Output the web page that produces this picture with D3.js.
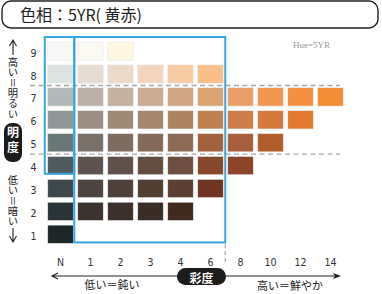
<!DOCTYPE html>
<html>
<head>
<meta charset="utf-8">
<script src="https://d3js.org/d3.v7.min.js"></script>
<style>
  body { margin: 0; background: #fff; }
  svg { display: block; }
</style>
</head>
<body>
<script>
// Munsell value / chroma chips, hue 5YR
var chromas = ["N", "1", "2", "3", "4", "6", "8", "10", "12", "14"];
var values = [9, 8, 7, 6, 5, 4, 3, 2, 1];

// chip colours for each value row, left to right from N
var row9 = ["#f7f8f7", "#fbf9f4", "#fdf6e0"];
var row8 = ["#dde3e1", "#e5ddd3", "#ebdaca", "#f3d5bd", "#f8cba4", "#f8bf88"];
var row7 = ["#b2b9b9", "#bcb1a9", "#c3b09f", "#cbab92", "#d2a585", "#dca26f", "#eb9f68", "#f0964f", "#f28f40", "#f28c35"];
var row6 = ["#8f9796", "#9a8e85", "#9f8a78", "#a4876e", "#ad8462", "#c0804f", "#cb7d4a", "#d5793e", "#e47a2f"];
var row5 = ["#697777", "#7a706a", "#7e6c61", "#846a5a", "#8d6a55", "#a4613d", "#a8603c", "#b05e2c"];
var row4 = ["#4e5a5e", "#5c5350", "#5f514a", "#644e44", "#6d4e40", "#86472a", "#8c4428"];
var row3 = ["#3e484b", "#4b4440", "#4e413b", "#523f34", "#5b3f33", "#6f3522"];
var row2 = ["#2a3436", "#3b3330", "#3c302c", "#3a2c26", "#40291e"];
var row1 = ["#1e2628"];

var rows = [row9, row8, row7, row6, row5, row4, row3, row2, row1];

var chips = [];
rows.forEach(function (r, i) {
    r.forEach(function (c, j) {
        chips.push({value: values[i], chroma: chromas[j], color: c});
    });
});

var width = 382, height = 294;
var jp = "'Noto Sans CJK JP', 'Noto Sans', sans-serif";
var narrow = "'Liberation Sans Narrow', 'DejaVu Sans Condensed', 'Liberation Sans', sans-serif";
var blue = "#38a6de";

var svg = d3.select("body").append("svg")
    .attr("width", width)
    .attr("height", height);

var x = d3.scaleBand()
    .domain(chromas)
    .range([45.5, 345.5])
    .paddingInner(0.15)
    .paddingOuter(0.075);

var y = d3.scaleBand()
    .domain(values)
    .range([39.7, 245.7])
    .paddingInner(0.2)
    .paddingOuter(0.1);

// title box
svg.append("rect")
    .attr("x", 2).attr("y", 1)
    .attr("width", 376).attr("height", 27)
    .attr("rx", 9)
    .attr("fill", "none")
    .attr("stroke", "#222")
    .attr("stroke-width", 1.4);

svg.append("text")
    .attr("x", 20).attr("y", 21)
    .attr("font-family", jp)
    .attr("font-size", 16)
    .attr("fill", "#222")
    .text("色相：5YR( 黄赤)");

svg.append("text")
    .attr("x", 293).attr("y", 48)
    .attr("font-family", "'Liberation Serif', 'DejaVu Serif', serif")
    .attr("font-size", 9)
    .attr("fill", "#9a9a9a")
    .text("Hue=5YR");

// chips
svg.selectAll(".chip")
    .data(chips)
    .enter()
    .append("rect")
    .attr("class", "chip")
    .attr("x", function (d) { return x(d.chroma); })
    .attr("y", function (d) { return y(d.value); })
    .attr("width", x.bandwidth())
    .attr("height", y.bandwidth())
    .attr("fill", function (d) { return d.color; })
    .attr("stroke", "#ececec")
    .attr("stroke-width", 0.6);

// dashed separators between value groups
var gap = (y.step() - y.bandwidth()) / 2;
[8, 5].forEach(function (v) {
    var yy = y(v) + y.bandwidth() + gap;
    svg.append("line")
        .attr("x1", 30).attr("x2", 340)
        .attr("y1", yy).attr("y2", yy)
        .attr("stroke", "#a8a8a8")
        .attr("stroke-width", 1.3)
        .attr("stroke-dasharray", "5,3.5");
});

// blue frames
var midX = x("1") - 3.5;
var rightX = x("6") + x.bandwidth() + 2;
var topY = y(9) - 5;
svg.append("rect")
    .attr("x", x("N") - 3)
    .attr("y", topY)
    .attr("width", midX - (x("N") - 3))
    .attr("height", y(4) + y.bandwidth() - 1 - topY)
    .attr("fill", "none")
    .attr("stroke", blue)
    .attr("stroke-width", 2);
svg.append("rect")
    .attr("x", midX)
    .attr("y", topY)
    .attr("width", rightX - midX)
    .attr("height", y(1) + y.bandwidth() - 1 - topY)
    .attr("fill", "none")
    .attr("stroke", blue)
    .attr("stroke-width", 2);

svg.append("line")
    .attr("x1", rightX).attr("x2", rightX)
    .attr("y1", 244).attr("y2", 262)
    .attr("stroke", "#a8a8a8")
    .attr("stroke-width", 1.2)
    .attr("stroke-dasharray", "4,3");

// axes
var xAxis = svg.append("g")
    .attr("transform", "translate(0,256)")
    .call(d3.axisBottom(x).tickSize(0).tickPadding(3));
xAxis.select(".domain").remove();
xAxis.selectAll("text")
    .attr("font-family", narrow)
    .attr("font-size", 10.5)
    .attr("fill", "#333");

var yAxis = svg.append("g")
    .attr("transform", "translate(38,2.2)")
    .call(d3.axisLeft(y).tickSize(0).tickPadding(1.5));
yAxis.select(".domain").remove();
yAxis.selectAll("text")
    .attr("font-family", narrow)
    .attr("font-size", 10.5)
    .attr("fill", "#333");

// vertical axis title (value)
function verticalText(str, x0, y0, size) {
    svg.append("text")
        .attr("x", x0)
        .attr("y", y0)
        .style("writing-mode", "vertical-rl")
        .attr("font-family", jp)
        .attr("font-size", size)
        .attr("fill", "#222")
        .text(str);
}

var ax = 13;
svg.append("path")
    .attr("d", "M" + ax + ",40V55M" + (ax - 3.5) + ",46L" + ax + ",40L" + (ax + 3.5) + ",46")
    .attr("fill", "none").attr("stroke", "#222").attr("stroke-width", 1.1);
verticalText("高い＝明るい", ax, 57, 10.3);

svg.append("rect")
    .attr("x", 4).attr("y", 123)
    .attr("width", 18).attr("height", 39)
    .attr("rx", 8)
    .attr("fill", "#1c1c1c");
svg.append("text")
    .attr("x", 13).attr("y", 126)
    .style("writing-mode", "vertical-rl")
    .style("letter-spacing", "3px")
    .attr("font-family", jp).attr("font-size", 12).attr("font-weight", "bold")
    .attr("fill", "#fff").text("明度");

verticalText("低い＝暗い", ax, 175, 10.3);
svg.append("path")
    .attr("d", "M" + ax + ",228V242M" + (ax - 3.5) + ",236L" + ax + ",242L" + (ax + 3.5) + ",236")
    .attr("fill", "none").attr("stroke", "#222").attr("stroke-width", 1.1);

// horizontal axis title (chroma)
var ay = 276;
svg.append("path")
    .attr("d", "M52," + ay + "H178M58," + (ay - 3) + "L52," + ay + "L58," + (ay + 3))
    .attr("fill", "none").attr("stroke", "#222").attr("stroke-width", 1.1);
svg.append("line")
    .attr("x1", 225).attr("x2", 336)
    .attr("y1", ay).attr("y2", ay)
    .attr("stroke", "#222").attr("stroke-width", 1.1);
svg.append("path")
    .attr("d", "M341," + ay + "L333," + (ay - 3) + "L335," + ay + "L333," + (ay + 3) + "Z")
    .attr("fill", "#222");

svg.append("rect")
    .attr("x", 177).attr("y", 268)
    .attr("width", 49).attr("height", 17)
    .attr("rx", 8.5)
    .attr("fill", "#1c1c1c");
svg.append("text")
    .attr("x", 201.5).attr("y", 277)
    .attr("text-anchor", "middle").attr("dominant-baseline", "central")
    .attr("font-family", jp).attr("font-size", 12).attr("font-weight", "bold")
    .attr("fill", "#fff").text("彩度");

svg.append("text")
    .attr("x", 112).attr("y", 289)
    .attr("text-anchor", "middle")
    .attr("font-family", jp).attr("font-size", 11)
    .attr("fill", "#222").text("低い＝鈍い");
svg.append("text")
    .attr("x", 290).attr("y", 290)
    .attr("text-anchor", "middle")
    .attr("font-family", jp).attr("font-size", 11)
    .attr("fill", "#222").text("高い＝鮮やか");
</script>
</body>
</html>
